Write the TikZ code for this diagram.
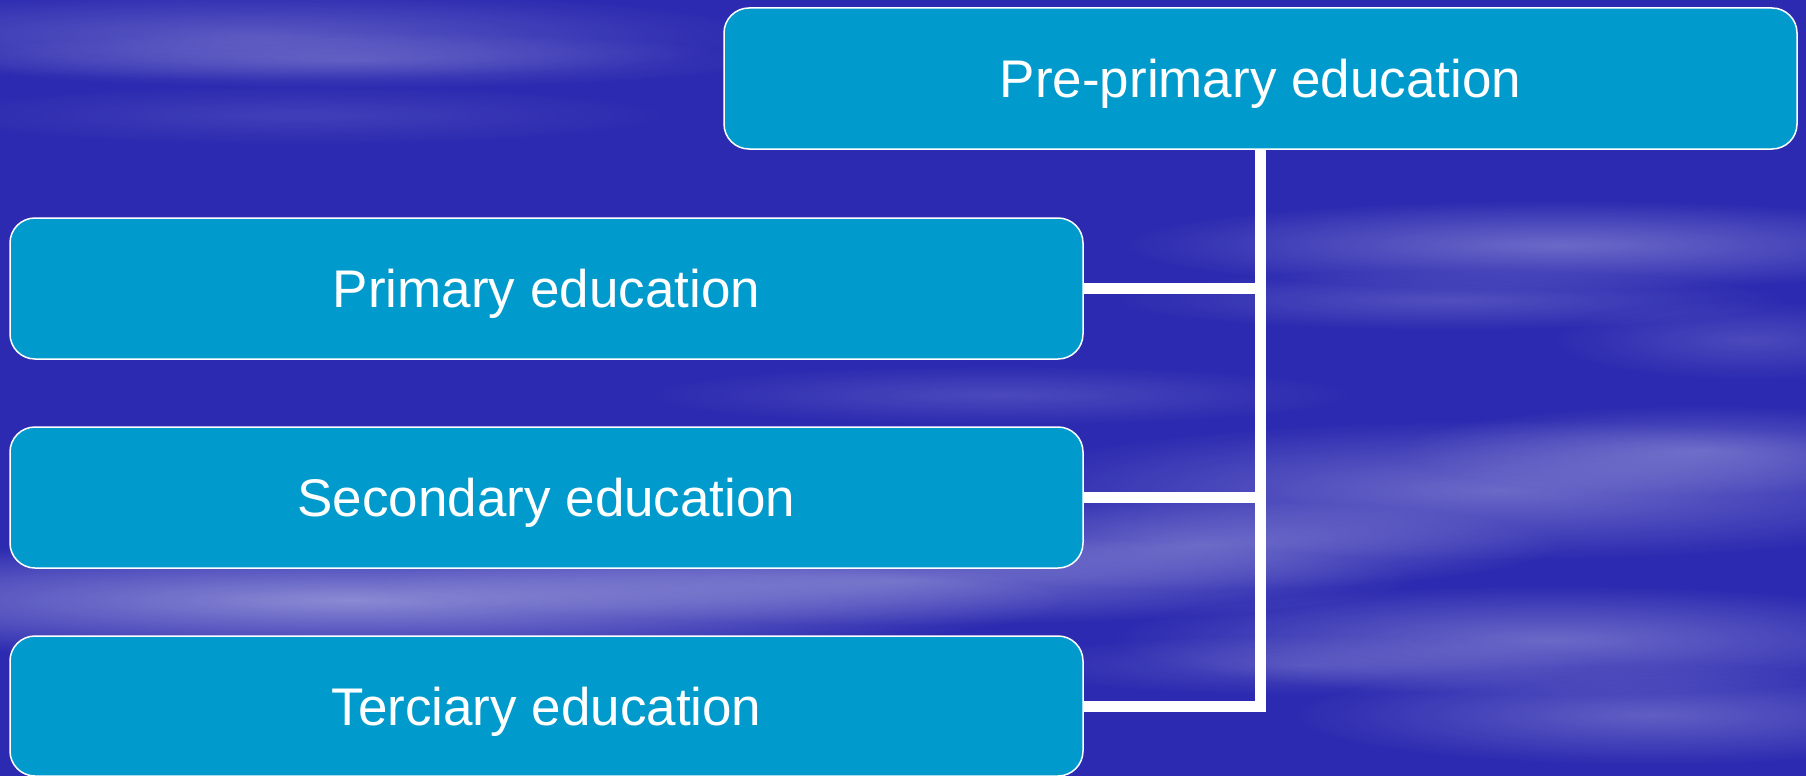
\documentclass[tikz,border=0pt]{standalone}
\usepackage{fontspec}
\setmainfont{Liberation Sans}
\usetikzlibrary{fadings}
\definecolor{bgblue}{RGB}{44,42,176}
\definecolor{boxblue}{RGB}{0,155,204}
\tikzfading[name=softedge, inner color=transparent!0, outer color=transparent!100]
\tikzset{
  levelbox/.style={draw=white, line width=1.5pt, fill=boxblue, rounded corners=25pt,
    minimum width=1073pt, minimum height=141pt, inner sep=0pt, text=white,
    font=\fontsize{53}{60}\selectfont, text height=38pt, text depth=0pt},
  linkline/.style={draw=white, line width=11pt, line join=miter},
  cloud/.style={fill=white, path fading=softedge}
}
\begin{document}
\begin{tikzpicture}[x=1pt,y=-1pt]
\useasboundingbox (0,0) rectangle (1806,776);
\fill[bgblue] (0,0) rectangle (1806,776);
% cloud streaks
\begin{scope}
\clip (0,0) rectangle (1806,776);
\fill[cloud, opacity=0.22] (250,35) ellipse (520 and 45);
\fill[cloud, opacity=0.18] (350,60) ellipse (420 and 28);
\fill[cloud, opacity=0.1] (300,115) ellipse (380 and 30);
\fill[cloud, opacity=0.3] (1560,245) ellipse (440 and 45);
\fill[cloud, opacity=0.18] (1450,300) ellipse (340 and 30);
\fill[cloud, opacity=0.15] (1750,340) ellipse (200 and 40);
\fill[cloud, opacity=0.15] (1000,395) ellipse (360 and 30);
\fill[cloud, opacity=0.3] (1500,490) ellipse (520 and 70);
\fill[cloud, opacity=0.25] (1700,450) ellipse (300 and 45);
\fill[cloud, opacity=0.3] (1200,545) ellipse (360 and 45);
\fill[cloud, opacity=0.45] (350,600) ellipse (720 and 60);
\fill[cloud, opacity=0.3] (900,580) ellipse (520 and 45);
\fill[cloud, opacity=0.3] (1550,640) ellipse (440 and 55);
\fill[cloud, opacity=0.25] (1650,715) ellipse (360 and 50);
\fill[cloud, opacity=0.15] (1300,665) ellipse (300 and 30);
\end{scope}
\node[levelbox] (pre) at (1260.5,78.5) {Pre-primary education};
\node[levelbox] (pri) at (546.5,288.5) {Primary education};
\node[levelbox] (sec) at (546.5,497.5) {Secondary education};
\node[levelbox, minimum height=140pt] (ter) at (546.5,706) {Terciary education};
\draw[linkline] (pre.south) -- (pre.south |- ter.east) -- (ter.east);
\draw[linkline] (pri.east) -- (pri.east -| pre.south);
\draw[linkline] (sec.east) -- (sec.east -| pre.south);
\end{tikzpicture}
\end{document}
